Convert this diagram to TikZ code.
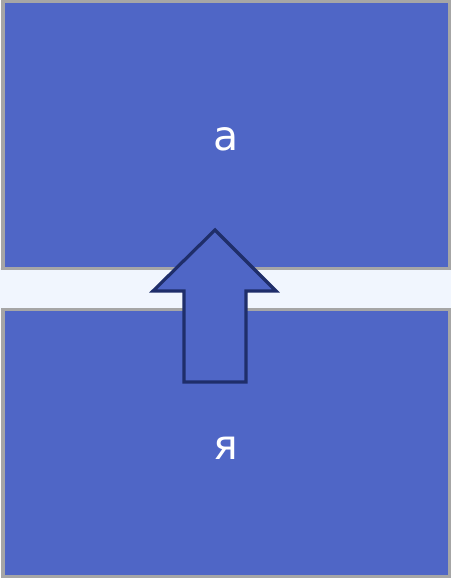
\documentclass[tikz,border=0pt]{standalone}
\usepackage{fontspec}
\setmainfont{DejaVu Sans}
\usetikzlibrary{positioning}
\definecolor{panelblue}{HTML}{4F66C6}
\definecolor{panelline}{HTML}{A6A6A6}
\definecolor{gapsoft}{HTML}{F1F6FE}
\definecolor{arrowline}{HTML}{1F2E6A}
\tikzset{
  vpanel/.style={draw=panelline,fill=panelblue,line width=3.5pt,inner sep=0pt},
  vletter/.style={text=white,font=\fontsize{41}{48}\selectfont},
  varrowbody/.style={draw=arrowline,fill=panelblue,line width=3.2pt,line join=miter}
}
\begin{document}
\begin{tikzpicture}[x=1pt,y=-1pt]
  \useasboundingbox (0,0) rectangle (451,580);
  \fill[white] (0,0) rectangle (451,580);
  \fill[gapsoft] (0,268) rectangle (451,310);
  \draw[vpanel] (3,1.7) rectangle (449.3,268.3);
  \draw[vpanel] (3,309.7) rectangle (449.3,576.5);
  \node[vletter] (top) at (226,139) {а};
  \node[vletter] (bottom) at (226,448) {я};
  \draw[varrowbody] (215,230) -- (276,291) -- (246,291) -- (246,382)
    -- (184,382) -- (184,291) -- (153,291) -- cycle;
\end{tikzpicture}
\end{document}
